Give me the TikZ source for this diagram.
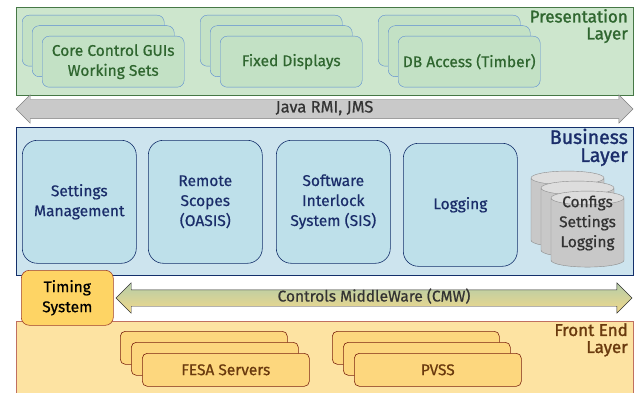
\documentclass[tikz,border=0pt]{standalone}
\usepackage{fontspec}
\setmainfont{Fira Sans}[FakeBold=0.6]
\newfontfamily\labelfont{Fira Sans}[FakeBold=1.4]
\usetikzlibrary{shapes.geometric,shapes.arrows,positioning}

\definecolor{presfill}{HTML}{CDE6CD}
\definecolor{presline}{HTML}{467846}
\definecolor{presbox}{HTML}{C3E1C5}
\definecolor{presedge}{HTML}{5B8BD4}
\definecolor{prestext}{HTML}{2F662F}
\definecolor{busfill}{HTML}{CDE4EE}
\definecolor{busline}{HTML}{14306B}
\definecolor{busbox}{HTML}{BEE0EA}
\definecolor{bustext}{HTML}{1B2D6A}
\definecolor{rmigray}{HTML}{C9C9C9}
\definecolor{cmwtop}{HTML}{B4CCA8}
\definecolor{cmwbot}{HTML}{F2D98A}
\definecolor{timefill}{HTML}{FED464}
\definecolor{timeline}{HTML}{A0402A}
\definecolor{frontfill}{HTML}{FDE3A2}
\definecolor{frontline}{HTML}{C07060}
\definecolor{frontbox}{HTML}{FDD77E}
\definecolor{frontedge}{HTML}{7B2410}
\definecolor{fronttext}{HTML}{6A3A0E}
\definecolor{dbbody}{HTML}{C8C8C8}
\definecolor{dbtop}{HTML}{DDDDDD}
\definecolor{dbline}{HTML}{8C8C8C}

\newcommand{\boxfont}{\fontsize{15.5}{20}\selectfont}
% empty body that still gives the cylinder its size
\newcommand{\storeblank}{\phantom{Settings}\\\phantom{Settings}\\\phantom{Logging}}

\tikzset{
  layer/.style={rectangle, anchor=north west, line width=1pt, inner sep=0pt,
    minimum width=617pt},
  layerlabel/.style={anchor=north east, align=right, inner sep=0pt,
    font=\labelfont\fontsize{17}{17}\selectfont},
  presnode/.style={rectangle, rounded corners=7pt, anchor=north west,
    draw=presedge, fill=presbox, text=prestext, font=\boxfont, align=center,
    minimum width=142pt, minimum height=51pt},
  busnode/.style={rectangle, rounded corners=15pt, anchor=north west,
    draw=busline, fill=busbox, text=bustext, font=\boxfont, align=center,
    minimum width=114pt, minimum height=123pt, line width=0.6pt},
  dbnode/.style={cylinder, shape border rotate=90, aspect=0.2,
    draw=dbline, cylinder uses custom fill, cylinder body fill=dbbody,
    cylinder end fill=dbtop, minimum width=73pt, minimum height=76pt,
    font=\boxfont, align=center, inner xsep=6pt, inner ysep=0pt},
  frontnode/.style={rectangle, rounded corners=5pt, anchor=north west,
    draw=frontedge, fill=frontbox, text=fronttext, font=\boxfont,
    minimum width=167pt, minimum height=33pt, line width=0.6pt},
  busarrow/.style={double arrow, draw, font=\boxfont, inner xsep=0pt,
    double arrow tip angle=90}
}

\begin{document}
\begin{tikzpicture}[x=1pt,y=-1pt]
  \useasboundingbox (0,0) rectangle (634,393);

  % Presentation layer
  \node[layer, draw=presline, fill=presfill, minimum height=88pt] (pres) at (16,7) {};
  \node[layerlabel, text=prestext] (preslabel) at (628,9) {Presentation\\Layer};

  \foreach \x/\name/\txt in {22/gui/{Core Control GUIs\\Working Sets},
                             200/fix/{Fixed Displays},
                             378/db/{DB Access (Timber)}} {
    \foreach \i in {0,1}
      \node[presnode] (\name\i) at ({\x+10*\i},{15+10.5*\i}) {};
    \node[presnode] (\name) at ({\x+20},36) {\txt};
  }

  % Java RMI / JMS bus
  \node[busarrow, fill=rmigray, draw=black!50, minimum height=617pt,
        text height=10pt, text depth=3pt, inner ysep=3pt,
        double arrow head extend=4.5pt, text=black!80,
        font=\fontsize{16.5}{20}\selectfont] (rmi) at (324.5,109) {Java RMI, JMS};

  % Business layer
  \node[layer, draw=busline, fill=busfill, minimum height=148pt] (bus) at (16,127) {};
  \node[layerlabel, text=bustext, font=\labelfont\fontsize{19.5}{18}\selectfont] (buslabel) at (628,128.5) {Business\\Layer};

  \node[busnode] (settings) at (22,140) {Settings\\Management};
  \node[busnode] (scopes) at (148,140) {Remote\\Scopes\\(OASIS)};
  \node[busnode] (sis) at (276,140) {Software\\Interlock\\System (SIS)};
  \node[busnode] (logging) at (403,143) {Logging};

  % database stack
  \foreach \i in {0,1,2}
    \node[dbnode] (store\i) at ({567.5+10*\i},{214.5+10*\i}) {\storeblank};
  \node[font=\boxfont, text=black!80, align=center, inner sep=0pt] (storetxt) at (587.5,223) {Configs\\Settings\\Logging};

  % Front end layer
  \node[layer, draw=frontline, fill=frontfill, minimum height=80pt] (front) at (16,321) {};
  \node[layerlabel, text=fronttext] (frontlabel) at (628,323) {Front End\\Layer};

  \foreach \x/\name/\txt in {120/fesa/{FESA Servers}, 332/pvss/{PVSS}} {
    \foreach \i in {0,1}
      \node[frontnode] (\name\i) at ({\x+11*\i},{331+11*\i}) {};
    \node[frontnode] (\name) at ({\x+22},353) {\txt};
  }

  % Controls middleware bus
  \node[busarrow, top color=cmwtop, bottom color=cmwbot, draw=black!80,
        minimum height=516pt, text height=10pt, text depth=3pt, inner ysep=1.5pt,
        double arrow head extend=7pt, text=black!80] (cmw) at (374,298) {Controls MiddleWare (CMW)};

  % Timing system
  \node[rectangle, rounded corners=8pt, anchor=north west, draw=timeline,
        fill=timefill, font=\boxfont, align=center, minimum width=92pt,
        minimum height=55pt, line width=0.6pt] (timing) at (21,270) {Timing\\System};
\end{tikzpicture}
\end{document}
